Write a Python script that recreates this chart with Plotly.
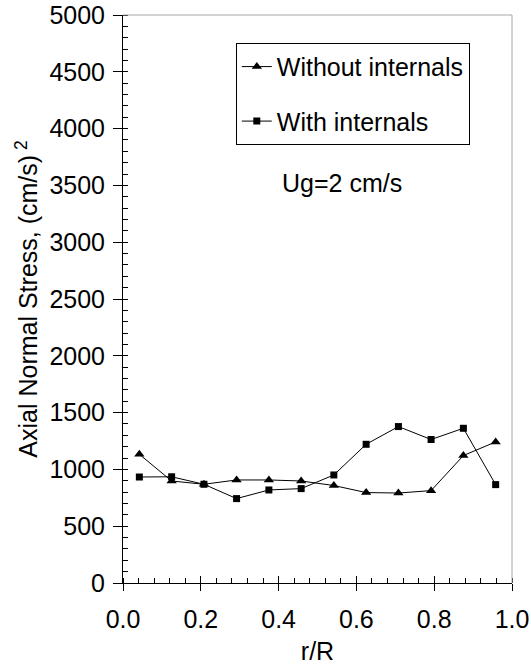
import plotly.graph_objects as go

r_R = [0.042, 0.125, 0.208, 0.292, 0.375, 0.458, 0.542, 0.625, 0.708, 0.792, 0.875, 0.958]
without_internals = [1133, 898, 869, 907, 907, 898, 858, 796, 792, 813, 1122, 1242]
with_internals = [933, 935, 869, 743, 819, 831, 951, 1221, 1377, 1263, 1362, 866]

x_ticks = [0.0, 0.2, 0.4, 0.6, 0.8, 1.0]
x_tick_labels = ["0.0", "0.2", "0.4", "0.6", "0.8", "1.0"]
y_ticks = list(range(0, 5001, 500))

FONT = "Liberation Sans, Arial, sans-serif"
FS = 25

fig = go.Figure()
fig.add_trace(go.Scatter(
    x=r_R, y=without_internals, name="Without internals", mode="lines+markers",
    line=dict(color="black", width=1),
    marker=dict(symbol="triangle-up", size=9, color="black"),
    legendgroup="a",
))
fig.add_trace(go.Scatter(
    x=r_R, y=with_internals, name="With internals", mode="lines+markers",
    line=dict(color="black", width=1),
    marker=dict(symbol="square", size=7, color="black"),
    legendgroup="b",
))
# empty trace to activate overlay axes (inner half of crossing major ticks)
fig.add_trace(go.Scatter(x=[], y=[], xaxis="x2", yaxis="y2", showlegend=False, hoverinfo="skip"))

axis_common = dict(showgrid=False, zeroline=False, linecolor="black", linewidth=1,
                   tickcolor="black", tickwidth=1, automargin=False,
                   tickfont=dict(family=FONT, size=FS, color="black"))

fig.update_layout(
    width=531, height=670,
    margin=dict(l=123, r=19, t=15, b=87),
    plot_bgcolor="white", paper_bgcolor="white",
    font=dict(family=FONT, size=FS, color="black"),
    xaxis=dict(range=[0, 1], tickvals=x_ticks, ticktext=x_tick_labels,
               ticks="outside", ticklen=7, showline=True,
               ticklabelstandoff=7,
               minor=dict(dtick=0.04, ticks="inside", ticklen=5, tickcolor="black", tickwidth=1),
               title=dict(text="r/R", font=dict(family=FONT, size=FS), standoff=10),
               **axis_common),
    yaxis=dict(range=[0, 5000], tickvals=y_ticks,
               ticks="outside", ticklen=9, showline=True,
               ticklabelstandoff=3,
               minor=dict(dtick=100, ticks="inside", ticklen=5, tickcolor="black", tickwidth=1),
               title=dict(text="Axial Normal Stress, (cm/s)<sup> 2</sup>", font=dict(family=FONT, size=FS), standoff=4),
               **axis_common),
    xaxis2=dict(overlaying="x", anchor="y2", range=[0, 1], tickvals=x_ticks,
                ticks="inside", ticklen=7, showticklabels=False, showline=False,
                showgrid=False, zeroline=False, tickcolor="black"),
    yaxis2=dict(overlaying="y", anchor="x2", range=[0, 5000], tickvals=y_ticks,
                ticks="inside", ticklen=5, showticklabels=False, showline=False,
                showgrid=False, zeroline=False, tickcolor="black"),
    showlegend=True,
    legend=dict(x=0.29, y=0.951, xanchor="left", yanchor="top",
                bordercolor="black", borderwidth=1, bgcolor="white",
                font=dict(family=FONT, size=FS, color="black"),
                traceorder="grouped", tracegroupgap=19, itemwidth=30),
    shapes=[
        dict(type="line", xref="paper", yref="paper", x0=1, x1=1, y0=0, y1=1,
             line=dict(color="#a6a6a6", width=1)),
        dict(type="line", xref="paper", yref="paper", x0=0, x1=1, y0=1, y1=1,
             line=dict(color="#a6a6a6", width=1)),
    ],
    annotations=[
        dict(text="Ug=2 cm/s", xref="paper", yref="paper", x=0.562, y=0.704,
             xanchor="center", yanchor="middle",
             showarrow=False, font=dict(family=FONT, size=FS, color="black")),
    ],
)

fig.write_html("out.html")
